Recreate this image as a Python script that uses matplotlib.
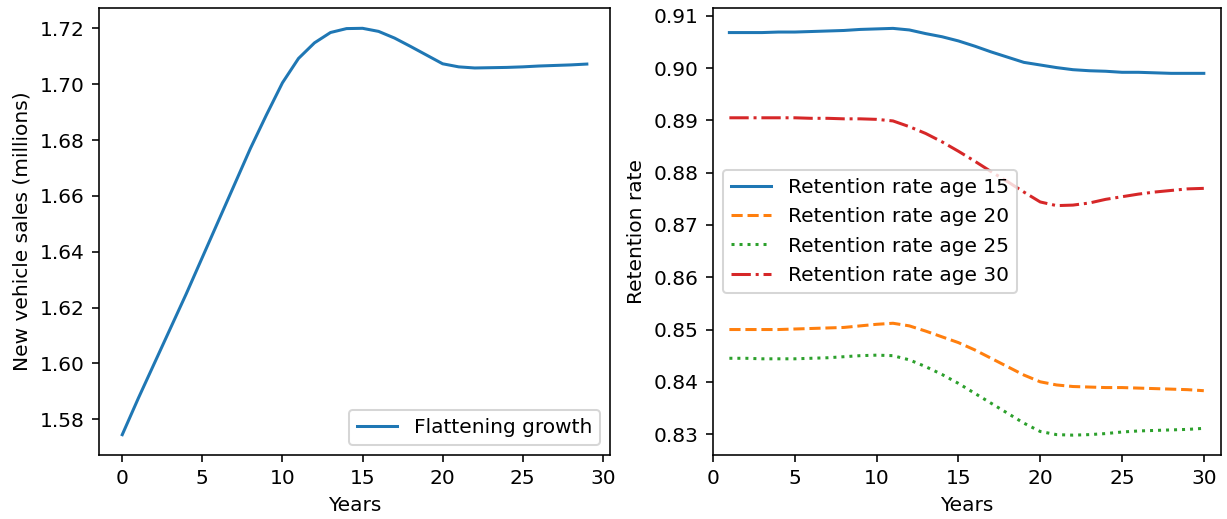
import numpy as np
import matplotlib
matplotlib.use("Agg")
import matplotlib.pyplot as plt

# left panel: new vehicle sales, years 0..29
sales_years = np.arange(0, 30)
sales = [1.5745, 1.5875, 1.6000, 1.6125, 1.6250, 1.6380, 1.6510, 1.6640,
         1.6770, 1.6890, 1.7005, 1.7092, 1.7148, 1.7185, 1.7199, 1.7200,
         1.7189, 1.7165, 1.7135, 1.7104, 1.7073, 1.7062, 1.7058, 1.7059,
         1.7060, 1.7062, 1.7065, 1.7067, 1.7069, 1.7072]

# right panel: retention rates, years 1..30
ret_years = np.arange(1, 31)
ret15 = [0.9068, 0.9068, 0.9068, 0.9069, 0.9069, 0.9070, 0.9071, 0.9072,
         0.9074, 0.9075, 0.9076, 0.9073, 0.9066, 0.9060, 0.9052, 0.9042,
         0.9031, 0.9021, 0.9011, 0.9006, 0.9001, 0.8997, 0.8995, 0.8994,
         0.8992, 0.8992, 0.8991, 0.8990, 0.8990, 0.8990]
ret20 = [0.8500, 0.8500, 0.8500, 0.8500, 0.8501, 0.8502, 0.8503, 0.8504,
         0.8507, 0.8510, 0.8512, 0.8507, 0.8497, 0.8486, 0.8475, 0.8461,
         0.8445, 0.8429, 0.8413, 0.8400, 0.8394, 0.8391, 0.8390, 0.8389,
         0.8389, 0.8388, 0.8387, 0.8386, 0.8385, 0.8383]
ret25 = [0.8445, 0.8445, 0.8444, 0.8444, 0.8444, 0.8445, 0.8446, 0.8448,
         0.8450, 0.8451, 0.8450, 0.8442, 0.8429, 0.8414, 0.8397, 0.8378,
         0.8359, 0.8340, 0.8321, 0.8305, 0.8299, 0.8298, 0.8299, 0.8301,
         0.8304, 0.8306, 0.8307, 0.8308, 0.8309, 0.8311]
ret30 = [0.8905, 0.8905, 0.8905, 0.8905, 0.8905, 0.8904, 0.8904, 0.8903,
         0.8903, 0.8902, 0.8899, 0.8888, 0.8875, 0.8859, 0.8841, 0.8822,
         0.8802, 0.8783, 0.8763, 0.8744, 0.8737, 0.8738, 0.8742, 0.8749,
         0.8754, 0.8759, 0.8763, 0.8766, 0.8769, 0.8770]

dpi = 145
fig = plt.figure(figsize=(1227 / dpi, 519 / dpi), dpi=dpi)
ax1 = fig.add_axes([0.0807, 0.1233, 0.4165, 0.8613])
ax2 = fig.add_axes([0.5811, 0.1233, 0.4140, 0.8613])

ax1.plot(sales_years, sales, label="Flattening growth")
ax1.set_xlabel("Years")
ax1.set_ylabel("New vehicle sales (millions)")
ax1.set_yticks(np.arange(1.58, 1.7201, 0.02))
ax1.legend(loc="lower right")

ax2.plot(ret_years, ret15, "-", label="Retention rate age 15")
ax2.plot(ret_years, ret20, "--", label="Retention rate age 20")
ax2.plot(ret_years, ret25, ":", label="Retention rate age 25")
ax2.plot(ret_years, ret30, "-.", label="Retention rate age 30")
ax2.set_xlabel("Years")
ax2.set_ylabel("Retention rate")
ax2.set_xlim(0, 31.05)
ax2.set_ylim(0.826, 0.9115)
ax2.set_yticks(np.arange(0.83, 0.9101, 0.01))
ax2.legend(loc="center left")

fig.savefig("out.png")
